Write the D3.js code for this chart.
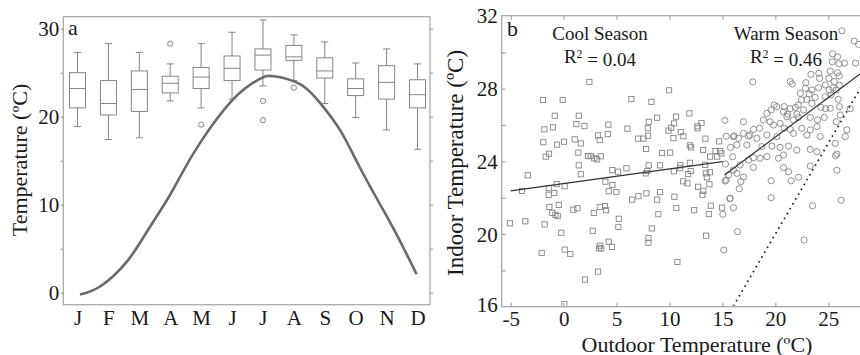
<!DOCTYPE html>
<html>
<head>
<meta charset="utf-8">
<script src="https://cdn.jsdelivr.net/npm/d3@7"></script>
<style>
  body { margin: 0; background: #fff; }
  svg text { font-family: "Liberation Serif", "DejaVu Serif", serif; fill: #1a1a1a; }
  .tick line { stroke: #999; }
  .frame { fill: none; stroke: #aaa; stroke-width: 1.3; }
</style>
</head>
<body>
<svg id="chart" width="860" height="355"></svg>
<script>
// ---- panel a : monthly indoor temperature boxes + outdoor curve
const months = ["J", "F", "M", "A", "M", "J", "J", "A", "S", "O", "N", "D"];
const whiskerLow  = [18.9, 17.4, 17.6, 21.8, 21.0, 22.0, 23.5, 24.1, 21.5, 19.9, 18.5, 16.3];
const q1          = [21.0, 20.2, 20.6, 22.7, 23.2, 24.1, 25.3, 26.4, 24.4, 22.4, 22.0, 21.0];
const median      = [23.2, 21.5, 23.1, 23.8, 24.5, 25.5, 27.0, 26.8, 25.2, 23.2, 23.9, 22.5];
const q3          = [25.0, 24.1, 25.2, 24.6, 25.6, 26.9, 27.7, 28.1, 26.7, 24.3, 25.8, 24.2];
const whiskerHigh = [27.3, 28.3, 27.3, 26.0, 28.3, 29.6, 31.0, 29.3, 28.5, 26.1, 27.7, 26.0];
const outlierMonth = [3, 4, 6, 6, 7];
const outlierTemp  = [28.3, 19.1, 21.8, 19.6, 23.3];

// outdoor temperature curve (fractional month index)
const curveMonth = [0.08, 0.73, 1.59, 2.24, 2.89, 3.37, 3.96, 5.04, 5.9, 6.36, 7.2, 7.84, 8.49, 9.14, 9.89, 10.43, 10.97];
const curveTemp  = [-0.2, 0.7, 3.5, 6.9, 10.5, 13.5, 17.0, 22.0, 24.3, 24.6, 23.7, 21.6, 18.5, 14.2, 9.4, 5.9, 2.1];

// ---- panel b : indoor vs outdoor scatter
const coolOut = [2.43, -1.95, -0.09, -0.84, 1.43, -1.82, -1.0, 1.2, 1.96, 4.23, 3.25, 3.41, 4.17, -1.92, -0.62, 0.04, 1.05, 1.62,
  -1.69, -1.38, 1.39, 2.31, 2.56, 2.9, 3.16, 3.51, 1.43, -3.39, 1.62, 4.6, 5.14, -0.65, 3.94, -3.93, -1.41, 0.1, -1.41, -0.88,
  4.6, 4.26, 4.98, -1.35, -0.46, -1.07, -0.78, -0.56, 0.92, 1.3, 2.85, 3.41, 3.91, 4.01, 5.21, 5.17, -5.07, -3.62, -1.79, -0.22,
  2.75, -2.07, 0.1, 0.63, 3.41, 3.35, 3.56, 4.26, 4.57, 2.02, 3.25, 0.07,
  9.96, 6.4, 8.29, 11.88, 8.83, 10.62, 8.04, 10.44, 13.02, 6.02, 7.95, 10.15, 9.9, 12.64, 12.64, 11.06, 11.31, 7.04, 7.53, 7.98,
  10.37, 13.39, 11.92, 12.04, 7.79, 9.3, 10.06, 13.18, 14.34, 14.78, 14.69, 13.84, 14.5, 14.91, 5.93, 8.04, 9.11, 11.03, 11.92,
  13.37, 7.91, 7.76, 10.41, 11.0, 12.0, 11.76, 13.43, 13.81, 11.29, 11.69, 13.53,
  12.7, 13.77, 6.47, 7.06, 7.82, 9.11, 8.83, 10.46, 13.2, 13.11, 10.65, 12.33, 13.9, 13.71, 14.97, 8.95, 8.33, 8.01, 8.01, 13.46, 10.75];
const coolIn = [28.37, 27.38, 27.38, 26.51, 26.51, 25.76, 25.87, 26.05, 25.94, 26.02, 25.43, 25.17, 25.5, 25.05, 24.92, 25.08, 25.21, 24.99,
  24.26, 24.42, 24.48, 24.29, 24.29, 24.17, 24.11, 24.28, 23.78, 23.23, 23.29, 23.52, 23.43, 22.75, 22.88, 22.37, 22.52, 22.63, 22.16, 22.26,
  22.7, 22.35, 22.31, 21.49, 21.6, 21.17, 21.06, 20.99, 21.34, 21.42, 21.16, 21.49, 21.54, 21.31, 20.84, 20.39, 20.59, 20.7, 20.53, 20.07,
  20.18, 18.96, 19.14, 18.9, 19.36, 19.21, 19.21, 19.58, 19.29, 17.49, 17.93, 16.15,
  27.91, 27.43, 27.27, 26.64, 26.4, 26.46, 26.18, 26.09, 26.11, 25.8, 25.82, 25.85, 25.69, 25.93, 25.82, 25.61, 25.38, 25.25, 25.25, 25.41,
  25.28, 25.25, 24.88, 24.77, 24.68, 24.46, 24.48, 24.62, 24.57, 24.57, 25.1, 24.26, 24.26, 24.44, 23.62, 23.78, 23.78, 23.78, 23.92,
  23.81, 23.47, 23.34, 23.45, 23.62, 23.47, 23.3, 23.34, 23.4, 22.9, 22.79, 23.12,
  22.6, 22.74, 21.89, 22.08, 22.24, 22.31, 21.89, 22.05, 22.38, 22.16, 21.43, 21.31, 21.56, 21.1, 21.45, 21.09, 20.31, 19.78, 19.52, 19.91, 18.46];

const warmOut = [15.23, 16.1, 15.35, 15.76, 15.95, 15.28, 15.57, 15.35, 15.7, 15.04, 15.13, 15.26,
  26.29, 27.45, 27.86, 25.4, 25.87, 26.53, 26.0, 27.57, 25.37, 17.87, 21.4, 21.59, 22.88, 23.36, 24.11, 24.17, 25.18, 25.87, 26.03,
  25.06, 25.56, 22.85, 23.45, 24.08, 24.71, 25.09, 25.44, 25.75, 26.06, 22.35, 23.2, 23.76, 24.71, 25.25, 25.94, 22.98, 22.47, 22.16,
  23.45, 24.3, 25.18, 24.74, 26.06, 27.07, 20.14, 20.83, 21.4, 21.9, 19.6, 19.89, 19.2, 20.77, 21.15, 22.03, 22.66, 21.09, 21.71,
  22.19, 23.29, 23.98, 24.62, 23.93, 26.76, 25.75, 26.13, 18.88, 19.51, 19.82, 20.45, 20.83, 21.4, 22.5, 23.29, 18.5, 17.93, 16.99,
  16.52, 16.04, 17.46, 18.25, 19.2, 20.14, 21.71, 22.98, 24.24, 25.66, 26.6, 16.36, 17.31, 18.72, 19.67, 20.45, 21.24, 22.03, 23.29,
  23.93, 25.81, 16.99, 17.6,
  17.93, 18.56, 20.29, 20.77, 20.77, 21.24, 21.5, 22.19, 23.29, 25.81, 25.68, 19.6, 19.6, 23.51, 26.22, 22.72, 16.42, 16.04, 15.73,
  16.58, 16.74, 16.99, 16.36, 16.04, 16.67, 17.46, 17.93, 19.2];
const warmIn = [26.26, 25.4, 25.38, 24.77, 24.26, 23.85, 23.25, 22.97, 21.94, 21.09, 19.12, 22.92,
  31.19, 30.62, 30.44, 29.92, 29.76, 29.4, 29.37, 29.41, 29.48, 28.37, 28.39, 28.26, 28.33, 28.79, 28.85, 28.57, 28.97, 28.88, 28.7,
  28.57, 28.39, 28.02, 27.93, 28.05, 28.2, 27.93, 28.05, 27.93, 28.19, 27.74, 27.71, 27.52, 27.56, 27.65, 27.41, 27.41, 27.38, 27.1,
  27.19, 26.97, 26.92, 26.9, 27.01, 26.9, 27.01, 27.01, 26.9, 26.97, 26.83, 27.1, 26.64, 26.73, 26.6, 26.6, 26.83, 26.46, 26.28,
  26.42, 26.42, 26.28, 26.42, 25.91, 25.73, 26.18, 26.55, 26.28, 26.18, 26.0, 26.09, 25.82, 25.76, 25.82, 25.73, 25.82, 25.76, 25.54,
  25.27, 25.36, 25.39, 25.27, 25.45, 25.36, 25.54, 25.45, 25.36, 24.99, 25.36, 24.9, 24.9, 24.81, 24.84, 24.77, 24.84, 24.62, 24.66,
  24.53, 24.4, 26.18, 25.45,
  23.67, 24.17, 24.17, 24.35, 23.65, 23.43, 22.93, 23.12, 23.74, 23.51, 24.31, 22.93, 22.0, 21.56, 21.86, 19.67, 20.13, 21.45, 21.97,
  22.49, 22.88, 23.14, 23.34, 23.52, 23.8, 24.07, 24.2, 24.26];

// fitted lines and 1:1 reference (outdoor, indoor)
const coolFit = [[-5, 22.37], [15.0, 23.98]];
const warmFit = [[15.2, 23.25], [28.2, 28.9]];
const oneToOne = [[15.5, 15.5], [29, 29]];

const svg = d3.select("#chart");
const grey = "#858585";

// ================= panel a =================
const aLeft = 63.3, aRight = 430, aTop = 16.7, aBottom = 304.7;
const xa = d3.scaleLinear().domain([0, 11]).range([77.5, 417.5]);
const ya = d3.scaleLinear().domain([0, 30]).range([292.7, 28.7]);

const ga = svg.append("g");
ga.append("rect").attr("class", "frame")
  .attr("x", aLeft).attr("y", aTop).attr("width", aRight - aLeft).attr("height", aBottom - aTop);

const yAxisA = ga.append("g")
  .attr("transform", "translate(" + aLeft + ",0)")
  .call(d3.axisLeft(ya).tickValues([0, 5, 10, 15, 20, 25, 30])
    .tickFormat(d => d % 10 === 0 ? d : "").tickSize(3).tickPadding(1));
yAxisA.select(".domain").remove();
yAxisA.selectAll("text").style("font-size", "21px").attr("dy", "0.34em");

// mirrored ticks on right edge
ga.append("g")
  .attr("transform", "translate(" + aRight + ",0)")
  .call(d3.axisRight(ya).tickValues([0, 5, 10, 15, 20, 25, 30]).tickFormat("").tickSize(3))
  .select(".domain").remove();

const xAxisA = ga.append("g")
  .attr("transform", "translate(0," + aBottom + ")")
  .call(d3.axisBottom(xa).tickValues(d3.range(12)).tickFormat(i => months[i]).tickSize(0).tickPadding(5));
xAxisA.select(".domain").remove();
xAxisA.selectAll("text").style("font-size", "21px").attr("dy", "0.71em");

// boxes
const boxW = 16, capW = 7;
const boxes = ga.append("g").attr("stroke", grey).attr("stroke-width", 1).attr("fill", "none");
months.forEach((m, i) => {
  const cx = xa(i);
  boxes.append("line").attr("x1", cx).attr("x2", cx).attr("y1", ya(whiskerLow[i])).attr("y2", ya(q1[i]));
  boxes.append("line").attr("x1", cx).attr("x2", cx).attr("y1", ya(q3[i])).attr("y2", ya(whiskerHigh[i]));
  boxes.append("line").attr("x1", cx - capW / 2).attr("x2", cx + capW / 2).attr("y1", ya(whiskerLow[i])).attr("y2", ya(whiskerLow[i]));
  boxes.append("line").attr("x1", cx - capW / 2).attr("x2", cx + capW / 2).attr("y1", ya(whiskerHigh[i])).attr("y2", ya(whiskerHigh[i]));
  boxes.append("rect").attr("x", cx - boxW / 2).attr("width", boxW)
    .attr("y", ya(q3[i])).attr("height", ya(q1[i]) - ya(q3[i])).attr("fill", "#fff");
  boxes.append("line").attr("x1", cx - boxW / 2).attr("x2", cx + boxW / 2).attr("y1", ya(median[i])).attr("y2", ya(median[i]));
});
boxes.selectAll("circle.out")
  .data(outlierMonth)
  .enter()
  .append("circle")
  .attr("cx", (d) => xa(d))
  .attr("cy", (d, i) => ya(outlierTemp[i]))
  .attr("r", 2.6);

// outdoor curve
ga.append("path")
  .datum(curveMonth.map((m, i) => [m, curveTemp[i]]))
  .attr("fill", "none")
  .attr("stroke", "#6a6a6a")
  .attr("stroke-width", 2.6)
  .attr("d", d3.line().x(d => xa(d[0])).y(d => ya(d[1])).curve(d3.curveNatural));

ga.append("text").attr("x", 68).attr("y", 35).style("font-size", "22px").text("a");
ga.append("text")
  .attr("transform", "translate(27,160) rotate(-90)")
  .style("text-anchor", "middle")
  .style("font-size", "22px")
  .text("Temperature (ºC)");

// ================= panel b =================
const bLeft = 501.7, bRight = 870, bTop = 15.7, bBottom = 306.7;
const xb = d3.scaleLinear().domain([-5, 25]).range([510.7, 828.3]);
const yb = d3.scaleLinear().domain([16, 32]).range([306.7, 16]);

const gb = svg.append("g");
gb.append("rect").attr("class", "frame")
  .attr("x", bLeft).attr("y", bTop).attr("width", bRight - bLeft).attr("height", bBottom - bTop);

const yAxisB = gb.append("g")
  .attr("transform", "translate(" + bLeft + ",0)")
  .call(d3.axisLeft(yb).tickValues([18, 20, 22, 24, 26, 28, 30])
    .tickFormat(d => d % 4 === 0 ? d : "").tickSize(-4).tickPadding(4));
yAxisB.select(".domain").remove();
yAxisB.selectAll("text").style("font-size", "21px").attr("dy", "0.34em");
gb.append("text").attr("x", bLeft - 4).attr("y", yb(32)).attr("dy", "0.34em")
  .style("text-anchor", "end").style("font-size", "21px").text("32");
gb.append("text").attr("x", bLeft - 4).attr("y", yb(16) - 2).attr("dy", "0.34em")
  .style("text-anchor", "end").style("font-size", "21px").text("16");

const xAxisB = gb.append("g")
  .attr("transform", "translate(0," + bBottom + ")")
  .call(d3.axisBottom(xb).tickValues([-5, 0, 5, 10, 15, 20, 25])
    .tickFormat(d => String(d)).tickSize(-4).tickPadding(4));
xAxisB.select(".domain").remove();
xAxisB.selectAll("text").style("font-size", "21px").attr("dy", "0.71em");
gb.append("g")
  .attr("transform", "translate(0," + bTop + ")")
  .call(d3.axisTop(xb).tickValues([-5, 0, 5, 10, 15, 20, 25]).tickFormat("").tickSize(-4))
  .select(".domain").remove();

svg.append("defs").append("clipPath").attr("id", "clipB")
  .append("rect").attr("x", bLeft + 1).attr("y", bTop + 1)
  .attr("width", bRight - bLeft).attr("height", bBottom - bTop - 2);

const plotB = gb.append("g").attr("clip-path", "url(#clipB)");

// cool season squares
const sq = 5.2;
plotB.append("g").selectAll("rect")
  .data(coolOut)
  .enter()
  .append("rect")
  .attr("x", (d) => xb(d) - sq / 2)
  .attr("y", (d, i) => yb(coolIn[i]) - sq / 2)
  .attr("width", sq).attr("height", sq)
  .attr("fill", "none").attr("stroke", grey).attr("stroke-width", 0.9);

// warm season circles
plotB.append("g").selectAll("circle")
  .data(warmOut)
  .enter()
  .append("circle")
  .attr("cx", (d) => xb(d))
  .attr("cy", (d, i) => yb(warmIn[i]))
  .attr("r", 3.1)
  .attr("fill", "none").attr("stroke", grey).attr("stroke-width", 0.9);

const lineB = d3.line().x(d => xb(d[0])).y(d => yb(d[1]));
plotB.append("path").datum(coolFit).attr("d", lineB).attr("stroke", "#333").attr("stroke-width", 1.3).attr("fill", "none");
plotB.append("path").datum(warmFit).attr("d", lineB).attr("stroke", "#333").attr("stroke-width", 1.3).attr("fill", "none");
plotB.append("path").datum(oneToOne).attr("d", lineB).attr("stroke", "#222").attr("stroke-width", 1.8)
  .attr("stroke-dasharray", "1.6,4").attr("fill", "none");

gb.append("text").attr("x", 507).attr("y", 36).style("font-size", "22px").text("b");

function seasonLabel(cx, name, r2) {
  gb.append("text").attr("x", cx).attr("y", 40).style("text-anchor", "middle")
    .style("font-size", "19px").text(name);
  const t = gb.append("text").attr("x", cx).attr("y", 63).style("text-anchor", "middle").style("font-size", "19px");
  t.append("tspan").text("R");
  t.append("tspan").attr("dy", "-0.45em").style("font-size", "12px").text("2");
  t.append("tspan").attr("dy", "0.45em").text(" = " + r2);
}
seasonLabel(600, "Cool Season", "0.04");
seasonLabel(786, "Warm Season", "0.46");

gb.append("text")
  .attr("x", 697).attr("y", 351.5)
  .style("text-anchor", "middle").style("font-size", "22px")
  .text("Outdoor Temperature (ºC)");
gb.append("text")
  .attr("transform", "translate(463,163) rotate(-90)")
  .style("text-anchor", "middle").style("font-size", "23px")
  .text("Indoor Temperature (ºC)");
</script>
</body>
</html>
